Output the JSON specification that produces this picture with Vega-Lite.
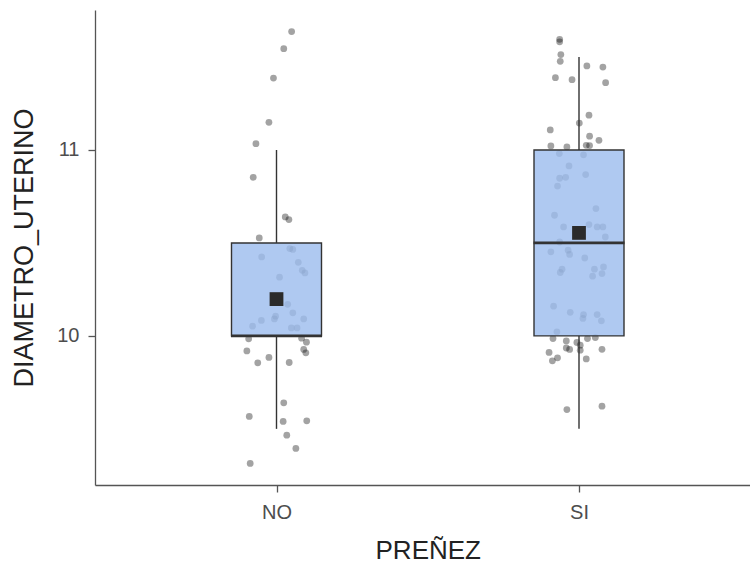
{
  "$schema": "https://vega.github.io/schema/vega-lite/v6.json",
  "autosize": "none",
  "padding": {"left": 95, "top": 10, "right": 0, "bottom": 79},
  "width": 665.5,
  "height": 475,
  "background": "white",
  "config": {
    "view": {"stroke": null},
    "font": "Liberation Sans",
    "axis": {
      "grid": false,
      "domainColor": "#555555",
      "domainWidth": 1.3,
      "tickColor": "#555555",
      "tickWidth": 1.3,
      "tickSize": 7,
      "labelFont": "Liberation Sans",
      "labelFontSize": 20,
      "labelColor": "#4d4d4d",
      "titleFont": "Liberation Sans",
      "titleFontSize": 27,
      "titleFontWeight": "normal",
      "titleColor": "#222222"
    }
  },
  "datasets": {
    "pts": [
      {"grupo":"NO","diametro":11.637,"jitter":0.050},
      {"grupo":"NO","diametro":11.545,"jitter":0.024},
      {"grupo":"NO","diametro":11.387,"jitter":-0.010},
      {"grupo":"NO","diametro":11.149,"jitter":-0.025},
      {"grupo":"NO","diametro":11.034,"jitter":-0.068},
      {"grupo":"NO","diametro":10.853,"jitter":-0.077},
      {"grupo":"NO","diametro":10.640,"jitter":0.029},
      {"grupo":"NO","diametro":10.626,"jitter":0.041},
      {"grupo":"NO","diametro":10.527,"jitter":-0.057},
      {"grupo":"NO","diametro":10.425,"jitter":-0.049},
      {"grupo":"NO","diametro":10.470,"jitter":0.044},
      {"grupo":"NO","diametro":10.465,"jitter":0.054},
      {"grupo":"NO","diametro":10.396,"jitter":0.072},
      {"grupo":"NO","diametro":10.353,"jitter":0.085},
      {"grupo":"NO","diametro":10.339,"jitter":0.094},
      {"grupo":"NO","diametro":10.316,"jitter":0.010},
      {"grupo":"NO","diametro":10.170,"jitter":0.037},
      {"grupo":"NO","diametro":10.124,"jitter":0.054},
      {"grupo":"NO","diametro":10.106,"jitter":-0.003},
      {"grupo":"NO","diametro":10.091,"jitter":-0.007},
      {"grupo":"NO","diametro":10.083,"jitter":-0.050},
      {"grupo":"NO","diametro":10.091,"jitter":0.090},
      {"grupo":"NO","diametro":10.052,"jitter":-0.079},
      {"grupo":"NO","diametro":10.043,"jitter":0.049},
      {"grupo":"NO","diametro":10.043,"jitter":0.068},
      {"grupo":"NO","diametro":9.984,"jitter":-0.092},
      {"grupo":"NO","diametro":9.988,"jitter":0.083},
      {"grupo":"NO","diametro":9.966,"jitter":0.099},
      {"grupo":"NO","diametro":9.919,"jitter":-0.098},
      {"grupo":"NO","diametro":9.927,"jitter":0.090},
      {"grupo":"NO","diametro":9.909,"jitter":0.097},
      {"grupo":"NO","diametro":9.855,"jitter":-0.062},
      {"grupo":"NO","diametro":9.884,"jitter":-0.025},
      {"grupo":"NO","diametro":9.857,"jitter":0.042},
      {"grupo":"NO","diametro":9.640,"jitter":0.024},
      {"grupo":"NO","diametro":9.567,"jitter":-0.090},
      {"grupo":"NO","diametro":9.540,"jitter":0.022},
      {"grupo":"NO","diametro":9.543,"jitter":0.100},
      {"grupo":"NO","diametro":9.466,"jitter":0.034},
      {"grupo":"NO","diametro":9.395,"jitter":0.064},
      {"grupo":"NO","diametro":9.314,"jitter":-0.087},
      {"grupo":"SI","diametro":11.595,"jitter":-0.064},
      {"grupo":"SI","diametro":11.582,"jitter":-0.064},
      {"grupo":"SI","diametro":11.513,"jitter":-0.060},
      {"grupo":"SI","diametro":11.477,"jitter":-0.062},
      {"grupo":"SI","diametro":11.452,"jitter":0.026},
      {"grupo":"SI","diametro":11.446,"jitter":0.079},
      {"grupo":"SI","diametro":11.389,"jitter":-0.078},
      {"grupo":"SI","diametro":11.378,"jitter":-0.023},
      {"grupo":"SI","diametro":11.362,"jitter":0.088},
      {"grupo":"SI","diametro":11.187,"jitter":0.033},
      {"grupo":"SI","diametro":11.145,"jitter":0.001},
      {"grupo":"SI","diametro":11.108,"jitter":-0.095},
      {"grupo":"SI","diametro":11.074,"jitter":0.035},
      {"grupo":"SI","diametro":11.052,"jitter":0.066},
      {"grupo":"SI","diametro":11.022,"jitter":-0.093},
      {"grupo":"SI","diametro":11.016,"jitter":-0.040},
      {"grupo":"SI","diametro":11.025,"jitter":0.024},
      {"grupo":"SI","diametro":11.024,"jitter":0.035},
      {"grupo":"SI","diametro":10.981,"jitter":-0.065},
      {"grupo":"SI","diametro":10.974,"jitter":0.015},
      {"grupo":"SI","diametro":10.914,"jitter":-0.033},
      {"grupo":"SI","diametro":10.848,"jitter":-0.064},
      {"grupo":"SI","diametro":10.853,"jitter":-0.044},
      {"grupo":"SI","diametro":10.868,"jitter":0.022},
      {"grupo":"SI","diametro":10.806,"jitter":-0.071},
      {"grupo":"SI","diametro":10.685,"jitter":0.056},
      {"grupo":"SI","diametro":10.649,"jitter":-0.081},
      {"grupo":"SI","diametro":10.586,"jitter":-0.051},
      {"grupo":"SI","diametro":10.599,"jitter":0.033},
      {"grupo":"SI","diametro":10.586,"jitter":0.060},
      {"grupo":"SI","diametro":10.586,"jitter":0.079},
      {"grupo":"SI","diametro":10.532,"jitter":0.087},
      {"grupo":"SI","diametro":10.505,"jitter":-0.064},
      {"grupo":"SI","diametro":10.452,"jitter":-0.093},
      {"grupo":"SI","diametro":10.461,"jitter":-0.036},
      {"grupo":"SI","diametro":10.438,"jitter":-0.031},
      {"grupo":"SI","diametro":10.419,"jitter":0.019},
      {"grupo":"SI","diametro":10.359,"jitter":-0.056},
      {"grupo":"SI","diametro":10.341,"jitter":-0.062},
      {"grupo":"SI","diametro":10.359,"jitter":0.051},
      {"grupo":"SI","diametro":10.371,"jitter":0.081},
      {"grupo":"SI","diametro":10.335,"jitter":0.076},
      {"grupo":"SI","diametro":10.321,"jitter":0.045},
      {"grupo":"SI","diametro":10.160,"jitter":-0.084},
      {"grupo":"SI","diametro":10.127,"jitter":-0.029},
      {"grupo":"SI","diametro":10.115,"jitter":0.015},
      {"grupo":"SI","diametro":10.094,"jitter":0.013},
      {"grupo":"SI","diametro":10.115,"jitter":0.060},
      {"grupo":"SI","diametro":10.081,"jitter":0.074},
      {"grupo":"SI","diametro":10.022,"jitter":-0.073},
      {"grupo":"SI","diametro":9.986,"jitter":-0.086},
      {"grupo":"SI","diametro":9.973,"jitter":-0.042},
      {"grupo":"SI","diametro":9.986,"jitter":0.028},
      {"grupo":"SI","diametro":9.991,"jitter":0.054},
      {"grupo":"SI","diametro":9.965,"jitter":-0.007},
      {"grupo":"SI","diametro":9.950,"jitter":0.004},
      {"grupo":"SI","diametro":9.935,"jitter":-0.042},
      {"grupo":"SI","diametro":9.927,"jitter":-0.031},
      {"grupo":"SI","diametro":9.923,"jitter":0.004},
      {"grupo":"SI","diametro":9.911,"jitter":-0.099},
      {"grupo":"SI","diametro":9.928,"jitter":0.076},
      {"grupo":"SI","diametro":9.882,"jitter":-0.071},
      {"grupo":"SI","diametro":9.866,"jitter":-0.088},
      {"grupo":"SI","diametro":9.876,"jitter":0.024},
      {"grupo":"SI","diametro":9.604,"jitter":-0.040},
      {"grupo":"SI","diametro":9.622,"jitter":0.076}
    ],
    "stats": [
      {"grupo":"NO","lower":9.5,"q1":10.0,"median":10.0,"q3":10.5,"upper":11.0,"mean":10.198},
      {"grupo":"SI","lower":9.5,"q1":10.0,"median":10.5,"q3":11.0,"upper":11.5,"mean":10.554}
    ]
  },
  "encoding": {
    "x": {
      "field": "grupo",
      "type": "nominal",
      "title": "PREÑEZ",
      "scale": {"type": "point", "padding": 0.6, "domain": ["NO", "SI"]},
      "axis": {"labelAngle": 0, "labelPadding": 10.5, "titlePadding": 15, "titleFontSize": 26}
    }
  },
  "layer": [
    {
      "data": {"name": "pts"},
      "mark": {"type": "point", "filled": true, "shape": "circle", "size": 46, "color": "#000000", "opacity": 0.36},
      "encoding": {
        "xOffset": {"field": "jitter", "type": "quantitative", "scale": {"domain": [-1, 1], "range": [-302.5, 302.5]}},
        "y": {
          "field": "diametro",
          "type": "quantitative",
          "title": "DIAMETRO_UTERINO",
          "scale": {"domain": [9.198, 11.753], "nice": false, "zero": false},
          "axis": {"values": [10, 11], "format": "d", "labelPadding": 9, "titlePadding": 18}
        }
      }
    },
    {
      "data": {"name": "stats"},
      "mark": {"type": "rule", "color": "#333333", "strokeWidth": 1.4},
      "encoding": {
        "y": {"field": "lower", "type": "quantitative"},
        "y2": {"field": "q1"}
      }
    },
    {
      "data": {"name": "stats"},
      "mark": {"type": "rule", "color": "#333333", "strokeWidth": 1.4},
      "encoding": {
        "y": {"field": "q3", "type": "quantitative"},
        "y2": {"field": "upper"}
      }
    },
    {
      "data": {"name": "stats"},
      "mark": {"type": "bar", "width": 90, "fill": "#9dbdee", "fillOpacity": 0.82, "stroke": "#333333", "strokeWidth": 1.4},
      "encoding": {
        "y": {"field": "q1", "type": "quantitative"},
        "y2": {"field": "q3"}
      }
    },
    {
      "data": {"name": "stats"},
      "mark": {"type": "tick", "size": 91, "thickness": 2.8, "color": "#333333", "opacity": 1},
      "encoding": {
        "y": {"field": "median", "type": "quantitative"}
      }
    },
    {
      "data": {"name": "stats"},
      "mark": {"type": "point", "shape": "square", "filled": true, "size": 190, "color": "#2b2b2b", "opacity": 1},
      "encoding": {
        "y": {"field": "mean", "type": "quantitative"}
      }
    }
  ]
}
